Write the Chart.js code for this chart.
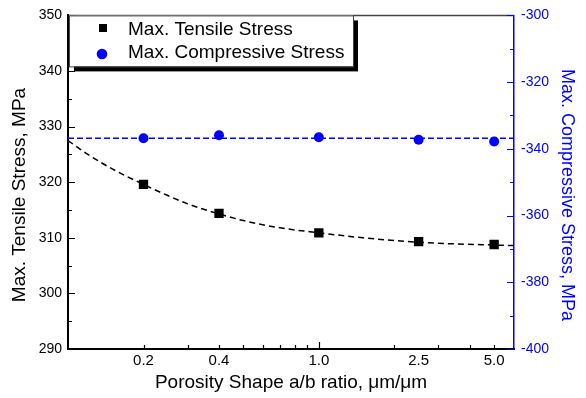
<!DOCTYPE html>
<html>
<head>
<meta charset="utf-8">
<script src="https://cdn.jsdelivr.net/npm/chart.js@4"></script>
<style>
  html, body { margin: 0; padding: 0; background: #fff; }
</style>
</head>
<body>
<canvas id="stress" width="586" height="398"></canvas>
<script>
var ratios = [0.2, 0.4, 1.0, 2.5, 5.0];
var tensile = [319.6, 314.4, 310.9, 309.3, 308.8];
var compressive = [-336.8, -335.9, -336.5, -337.3, -337.8];

// dashed fit lines
var fitX = [0.1, 0.12, 0.15, 0.2, 0.25, 0.3, 0.4, 0.5, 0.7, 1.0, 1.5, 2.0, 2.5, 3.5, 5.0, 6.0];
var fitTensile = [327.5, 325.0, 322.4, 319.6, 317.6, 316.1, 314.3, 313.1, 311.8, 310.9, 310.0, 309.5, 309.2, 308.9, 308.7, 308.6];
var fitCompX = [0.1, 6.0];
var fitCompressive = [-336.8, -336.8];

var xTickLabels = [0.2, 0.4, 1.0, 2.5, 5.0];
var xMinorTicks = [0.2, 0.3, 0.4, 0.5, 0.6, 0.7, 0.8, 0.9, 2, 3, 4, 5];
var xMajorTicks = [1.0];

var FONT = "'Liberation Sans', Arial, sans-serif";
var BLUE = "#0000ff";

function pts(xs, ys) {
  var out = [];
  for (var i = 0; i < xs.length; i++) out.push({x: xs[i], y: ys[i]});
  return out;
}

var frame = {
  id: "frame",
  afterDatasetsDraw: function(chart) {
    var ctx = chart.ctx, a = chart.chartArea;
    var x = chart.scales.x, y = chart.scales.y, y1 = chart.scales.y1;
    var i, p, v;
    ctx.save();
    // top border
    ctx.strokeStyle = "#444";
    ctx.lineWidth = 1.5;
    ctx.beginPath();
    ctx.moveTo(a.left, a.top);
    ctx.lineTo(a.right, a.top);
    ctx.stroke();

    // inward ticks, x axis
    ctx.strokeStyle = "#000";
    ctx.lineWidth = 1.2;
    ctx.beginPath();
    for (i = 0; i < xMinorTicks.length; i++) {
      p = Math.round(x.getPixelForValue(xMinorTicks[i])) + 0.5;
      ctx.moveTo(p, a.bottom);
      ctx.lineTo(p, a.bottom - 4);
    }
    for (i = 0; i < xMajorTicks.length; i++) {
      p = Math.round(x.getPixelForValue(xMajorTicks[i])) + 0.5;
      ctx.moveTo(p, a.bottom);
      ctx.lineTo(p, a.bottom - 7);
    }
    // left axis
    for (v = 290; v <= 350; v += 5) {
      p = Math.round(y.getPixelForValue(v)) + 0.5;
      ctx.moveTo(a.left, p);
      ctx.lineTo(a.left + (v % 10 === 0 ? 7 : 4), p);
    }
    ctx.stroke();

    // right axis
    ctx.strokeStyle = BLUE;
    ctx.beginPath();
    for (v = -400; v <= -300; v += 10) {
      p = Math.round(y1.getPixelForValue(v)) + 0.5;
      ctx.moveTo(a.right, p);
      ctx.lineTo(a.right - (v % 20 === 0 ? 7 : 4), p);
    }
    ctx.stroke();
    ctx.restore();
  },
  afterDraw: function(chart) {
    var ctx = chart.ctx, a = chart.chartArea;
    ctx.save();

    // legend box with shadow
    var bx = a.left + 1, by = a.top, bw = 284, bh = 51;
    ctx.fillStyle = "#000";
    ctx.fillRect(bx + 5, by + 5, bw, bh);
    ctx.fillStyle = "#fff";
    ctx.fillRect(bx, by, bw, bh);
    ctx.strokeStyle = "#444";
    ctx.lineWidth = 1;
    ctx.strokeRect(bx + 0.5, by + 0.5, bw, bh);

    ctx.fillStyle = "#000";
    ctx.fillRect(99, 24, 8, 8);
    ctx.fillStyle = BLUE;
    ctx.beginPath();
    ctx.arc(102, 54, 5.3, 0, Math.PI * 2);
    ctx.fill();

    ctx.fillStyle = "#000";
    ctx.font = "19px " + FONT;
    ctx.textAlign = "left";
    ctx.textBaseline = "alphabetic";
    ctx.fillText(chart.data.datasets[0].label, 128, 34.5);
    ctx.fillText(chart.data.datasets[1].label, 128, 57.5);

    // axis titles
    ctx.textAlign = "center";
    ctx.font = "19px " + FONT;
    ctx.fillText("Porosity Shape a/b ratio, \u03bcm/\u03bcm", (a.left + a.right) / 2, 387.5);

    ctx.save();
    ctx.translate(25, 195);
    ctx.rotate(-Math.PI / 2);
    ctx.fillText("Max. Tensile Stress, MPa", 0, 0);
    ctx.restore();

    ctx.save();
    ctx.fillStyle = BLUE;
    ctx.font = "18px " + FONT;
    ctx.translate(562, 195);
    ctx.rotate(Math.PI / 2);
    ctx.fillText("Max. Compressive Stress, MPa", 0, 0);
    ctx.restore();

    ctx.restore();
  }
};

var canvas = document.getElementById("stress");
var StressChart = new Chart(canvas, {
  type: "scatter",
  data: {
    datasets: [{
      label: "Max. Tensile Stress",
      data: pts(ratios, tensile),
      yAxisID: "y",
      showLine: false,
      pointStyle: "rect",
      pointRadius: 6.6,
      pointBorderWidth: 0,
      backgroundColor: "#000",
      borderColor: "#000",
      order: 0
    }, {
      label: "Max. Compressive Stress",
      data: pts(ratios, compressive),
      yAxisID: "y1",
      showLine: false,
      pointStyle: "circle",
      pointRadius: 5,
      pointBorderWidth: 0,
      backgroundColor: BLUE,
      borderColor: BLUE,
      order: 0
    }, {
      label: "tensile fit",
      data: pts(fitX, fitTensile),
      yAxisID: "y",
      showLine: true,
      pointRadius: 0,
      borderColor: "#000",
      borderWidth: 1.5,
      borderDash: [6, 4],
      cubicInterpolationMode: "monotone",
      order: 1
    }, {
      label: "compressive fit",
      data: pts(fitCompX, fitCompressive),
      yAxisID: "y1",
      showLine: true,
      pointRadius: 0,
      borderColor: BLUE,
      borderWidth: 1.5,
      borderDash: [6, 3],
      order: 1
    }]
  },
  options: {
    responsive: false,
    animation: false,
    devicePixelRatio: 1,
    layout: {padding: {top: 13, left: 0, right: 0, bottom: 0}},
    plugins: {legend: {display: false}, tooltip: {enabled: false}},
    scales: {
      x: {
        type: "logarithmic",
        position: "bottom",
        min: 0.1,
        max: 6,
        afterBuildTicks: function(s) {
          s.ticks = xTickLabels.map(function(v) { return {value: v}; });
        },
        afterFit: function(s) { s.height = 49; },
        grid: {display: false, drawTicks: false},
        border: {display: true, color: "#000", width: 2},
        ticks: {
          autoSkip: false,
          maxRotation: 0,
          padding: 3,
          color: "#000",
          font: {family: FONT, size: 15},
          callback: function(v) { return Number(v).toFixed(1); }
        }
      },
      y: {
        position: "left",
        min: 290,
        max: 350,
        afterFit: function(s) { s.width = 68; },
        grid: {display: false, drawTicks: false},
        border: {display: true, color: "#000", width: 2},
        ticks: {stepSize: 10, padding: 6, color: "#000", font: {family: FONT, size: 14}}
      },
      y1: {
        position: "right",
        min: -400,
        max: -300,
        afterFit: function(s) { s.width = 72; },
        grid: {display: false, drawTicks: false},
        border: {display: true, color: BLUE, width: 1.5},
        ticks: {stepSize: 20, padding: 7, color: BLUE, font: {family: FONT, size: 14}}
      }
    }
  },
  plugins: [frame]
});
</script>
</body>
</html>
